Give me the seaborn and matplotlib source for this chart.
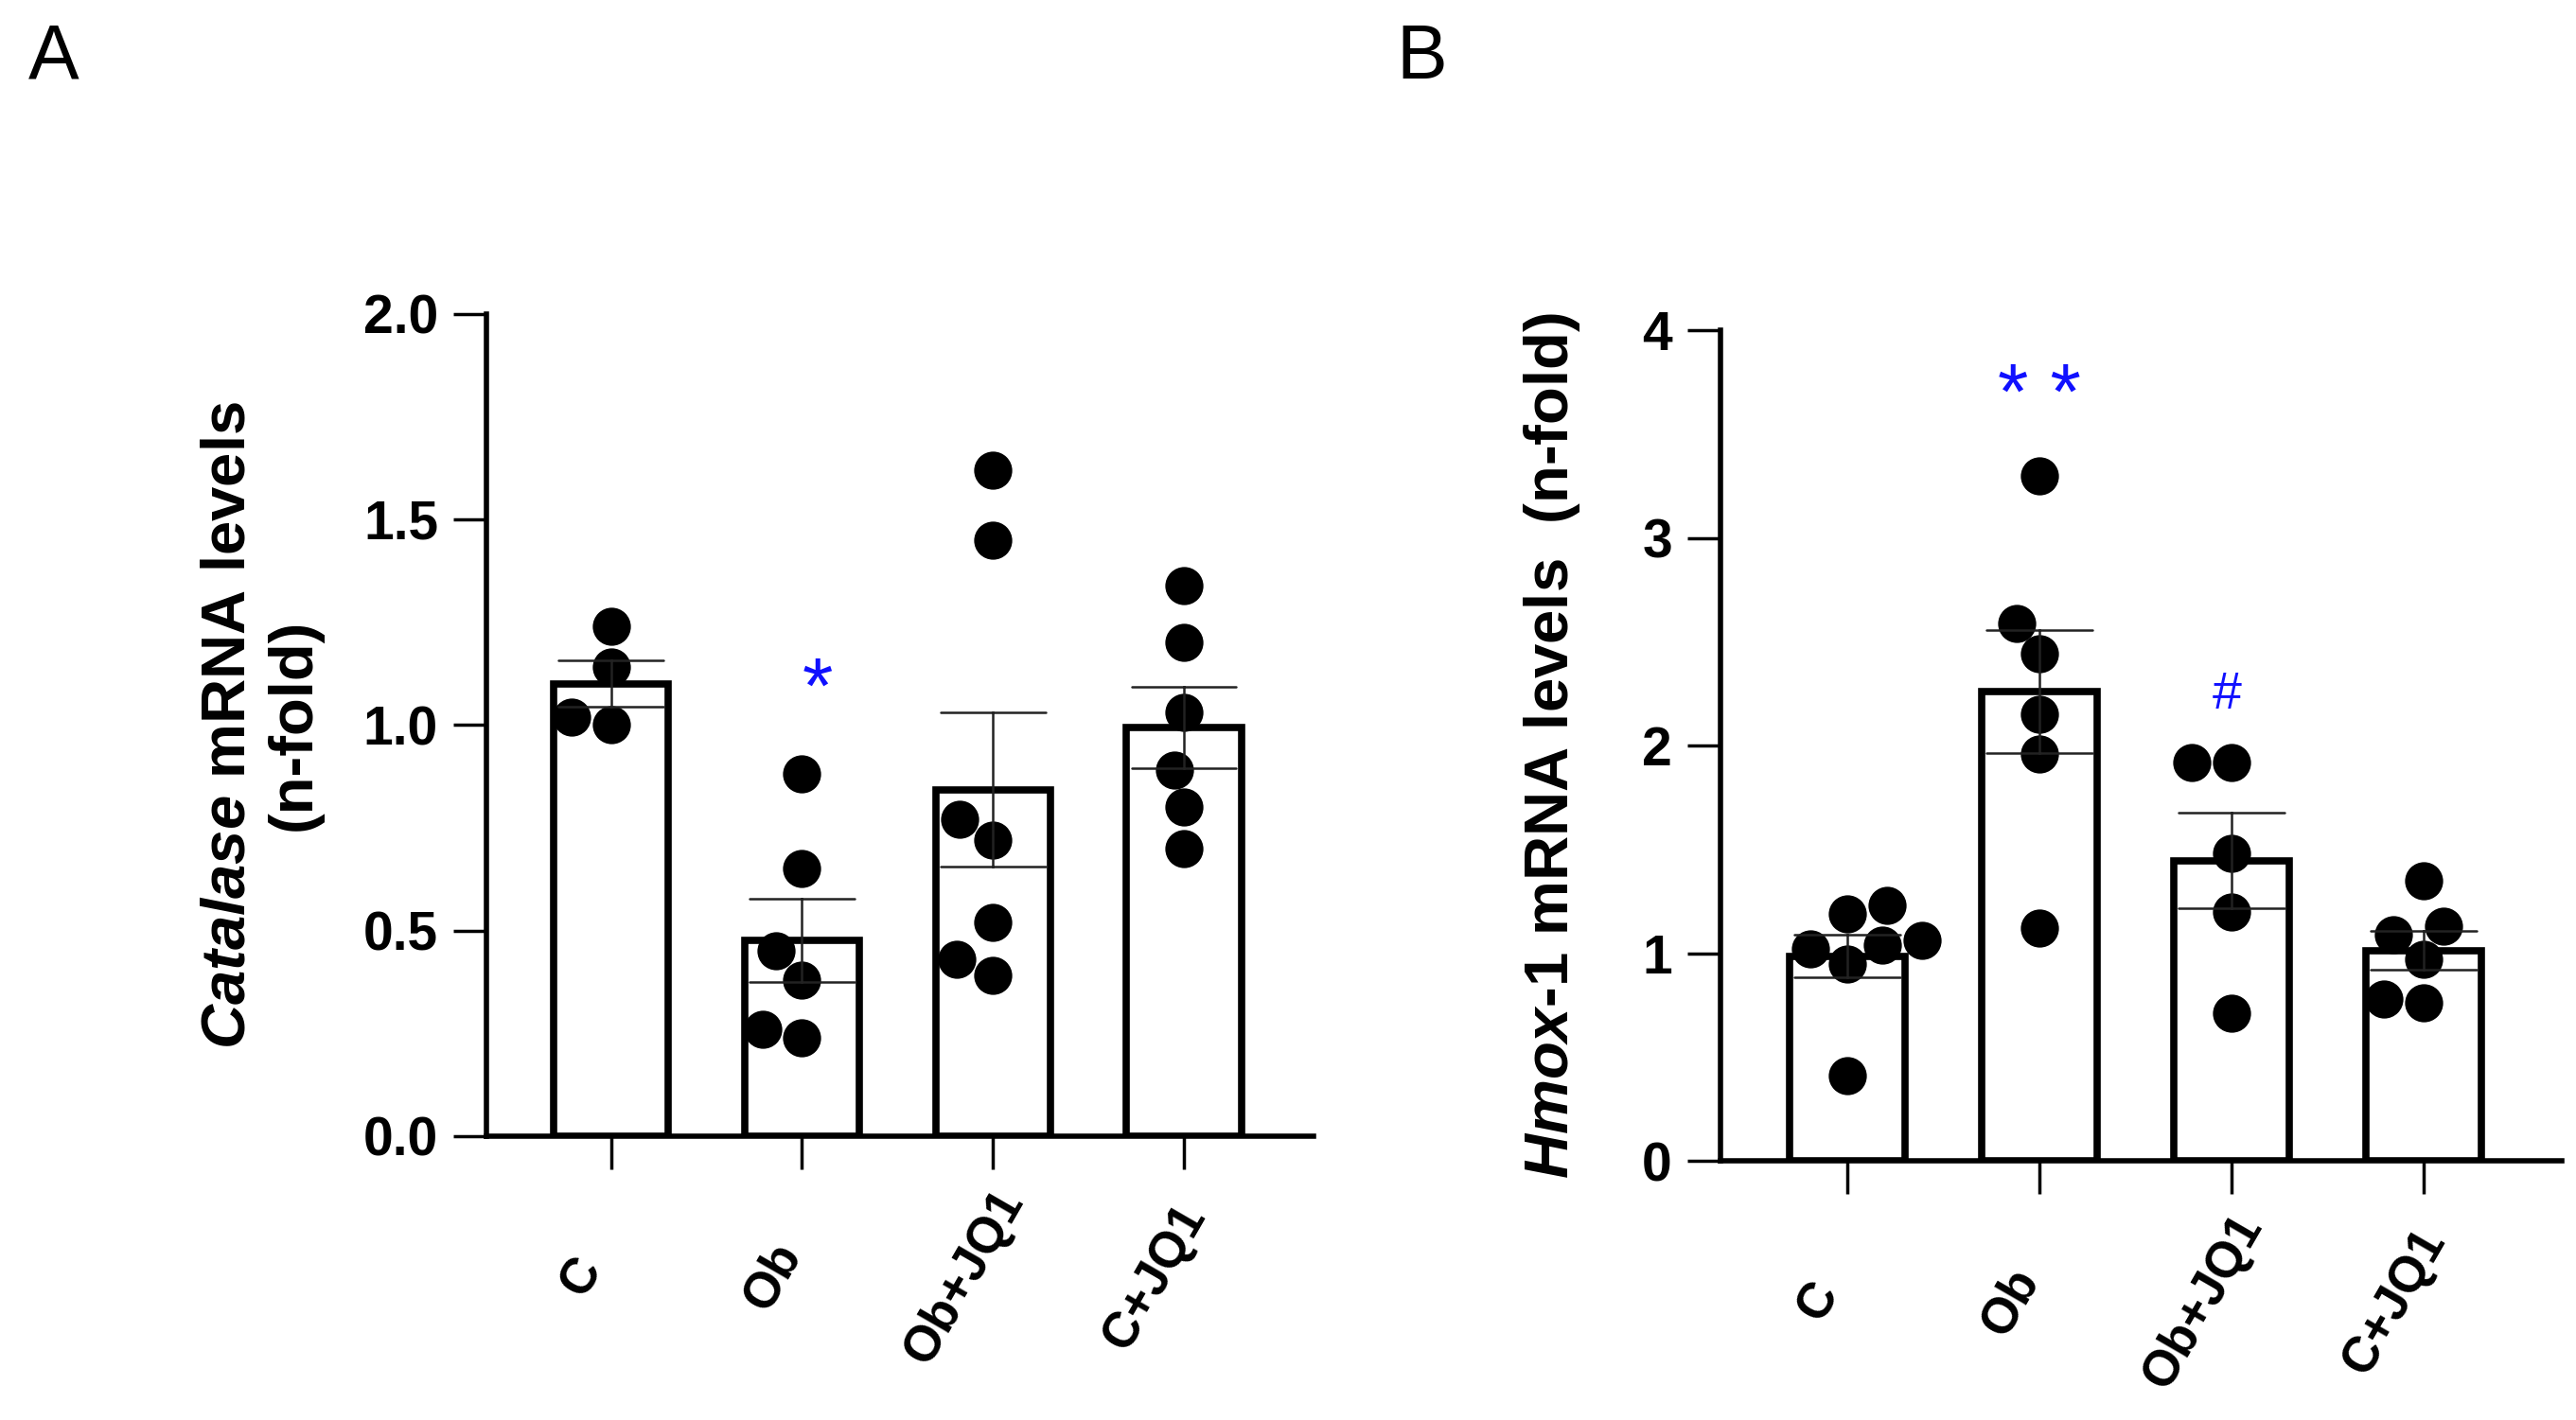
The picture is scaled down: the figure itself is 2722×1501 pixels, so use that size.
import numpy as np
import pandas as pd
import seaborn as sns
import matplotlib.pyplot as plt
import matplotlib.transforms as mtransforms
from matplotlib import font_manager

# groups on the x axis
groups = ["C", "Ob", "Ob+JQ1", "C+JQ1"]

# panel A - Catalase mRNA (n-fold), single animals
cat_C = [1.24, 1.14, 1.02, 1.00]
cat_Ob = [0.88, 0.65, 0.45, 0.38, 0.26, 0.24]
cat_ObJQ1 = [1.62, 1.45, 0.77, 0.72, 0.52, 0.43, 0.39]
cat_CJQ1 = [1.34, 1.20, 1.03, 0.89, 0.80, 0.70]

# panel B - Hmox-1 mRNA (n-fold)
hmox_C = [1.23, 1.19, 1.06, 1.04, 1.02, 0.95, 0.41]
hmox_Ob = [3.30, 2.59, 2.44, 2.15, 1.96, 1.12]
hmox_ObJQ1 = [1.92, 1.92, 1.48, 1.20, 0.71]
hmox_CJQ1 = [1.35, 1.13, 1.09, 0.97, 0.78, 0.76]

# axis ticks
yticks_A = [0.0, 0.5, 1.0, 1.5, 2.0]
ytick_labels_A = ["0.0", "0.5", "1.0", "1.5", "2.0"]
yticks_B = [0, 1, 2, 3, 4]
ytick_labels_B = ["0", "1", "2", "3", "4"]


def long_df(lists):
    return pd.DataFrame({
        "group": [g for g, v in zip(groups, lists) for _ in v],
        "value": [x for v in lists for x in v],
    })


sns.set_style("ticks")
names = {f.name for f in font_manager.fontManager.ttflist}
narrow = "Liberation Sans Narrow" if "Liberation Sans Narrow" in names else "Liberation Sans"
plt.rcParams["font.family"] = ["Liberation Sans", "DejaVu Sans"]
plt.rcParams["mathtext.fontset"] = "custom"
plt.rcParams["mathtext.it"] = narrow + ":italic:bold"
plt.rcParams["mathtext.rm"] = narrow + ":bold"
plt.rcParams["mathtext.bf"] = narrow + ":bold"
for key in ["text.color", "axes.labelcolor", "xtick.color", "ytick.color",
            "axes.edgecolor"]:
    plt.rcParams[key] = "black"


def draw_panel(ax, df, ylim, yticks, ylabels, ylabel, label_x, xlim):
    sns.barplot(data=df, x="group", y="value", order=groups, errorbar="se",
                capsize=0.55, width=0.6, color="white", saturation=1,
                edgecolor="black", linewidth=5.5,
                err_kws={"linewidth": 1.8, "color": "#222222"}, ax=ax)
    for line in ax.lines:
        line.set_zorder(5)
    sns.swarmplot(data=df, x="group", y="value", order=groups, color="black",
                  size=29, ax=ax, zorder=3)
    ax.set_xlim(*xlim)
    ax.set_ylim(*ylim)
    ax.set_yticks(yticks)
    ax.set_yticklabels(ylabels, fontsize=41, fontweight="bold")
    ax.set_xticks(range(len(groups)))
    ax.set_xlabel("")
    ax.set_ylabel(ylabel, fontsize=47, family=[narrow, "DejaVu Sans"],
                  fontweight="bold", va="center", ha="center",
                  multialignment="center")
    ax.yaxis.set_label_coords(label_x, 0.5)
    sns.despine(ax=ax)
    for s in ["left", "bottom"]:
        ax.spines[s].set_linewidth(4)
    ax.tick_params(axis="both", length=25, width=2.5, color="black")
    ax.tick_params(axis="y", pad=12)
    ax.tick_params(axis="x", pad=82)
    ax.set_xticklabels(groups, fontsize=38, fontweight="bold", rotation=60,
                       ha="center", va="center", rotation_mode="anchor")
    # GraphPad-like placement: rotated labels sit a little left of the tick
    shift = mtransforms.ScaledTranslation(-22 / 72, 0, fig.dpi_scale_trans)
    for lab in ax.get_xticklabels():
        lab.set_transform(lab.get_transform() + shift)


fig = plt.figure(figsize=(27.22, 15.01), dpi=100)

axA = fig.add_axes([0.189, 0.2, 0.321, 0.579])
draw_panel(axA, long_df([cat_C, cat_Ob, cat_ObJQ1, cat_CJQ1]), (0, 2),
           yticks_A, ytick_labels_A,
           "$\\mathit{Catalase}$ mRNA levels\n(n-fold)", -0.273, (-0.65, 3.68))
axA.text(1.08, 1.03, "*", color="#1010ff", fontsize=60, ha="center",
         va="baseline", family="Liberation Sans")

axB = fig.add_axes([0.668, 0.1825, 0.3266, 0.585])
draw_panel(axB, long_df([hmox_C, hmox_Ob, hmox_ObJQ1, hmox_CJQ1]), (0, 4),
           yticks_B, ytick_labels_B,
           "$\\mathit{Hmox}$-$\\mathit{1}$ mRNA levels  (n-fold)", -0.201,
           (-0.66, 3.72))
axB.text(1.0, 3.57, "* *", color="#1010ff", fontsize=60, ha="center",
         va="baseline", family="Liberation Sans")
axB.text(1.975, 2.18, "#", color="#1010ff", fontsize=40, ha="center",
         va="baseline", family="Liberation Sans")

fig.text(0.021, 0.959, "A", fontsize=58, va="center", ha="center",
         family=[narrow, "DejaVu Sans"])
fig.text(0.552, 0.959, "B", fontsize=58, va="center", ha="center",
         family=[narrow, "DejaVu Sans"])

fig.savefig("out.png", dpi=100, facecolor="white")
